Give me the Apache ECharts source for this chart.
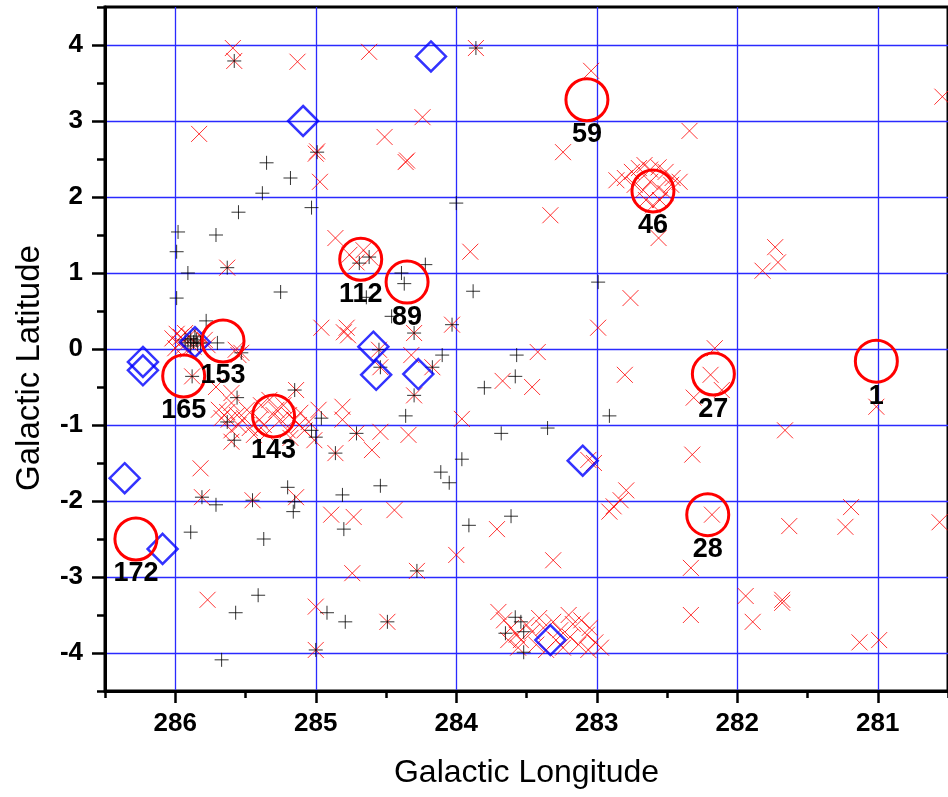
<!DOCTYPE html>
<html>
<head>
<meta charset="utf-8">
<script src="https://cdn.jsdelivr.net/npm/echarts@6/dist/echarts.min.js"></script>
<style>
  html, body { margin: 0; padding: 0; background: #fff; }
  #chart { width: 948px; height: 797px; }
</style>
</head>
<body>
<div id="chart"></div>
<script>
// tick values
const xTicks = [281, 282, 283, 284, 285, 286];
const yTicks = [-4, -3, -2, -1, 0, 1, 2, 3, 4];

// red x markers [lon, lat]
const redCross = [
  [285.59, 3.96], [285.58, 3.79], [285.13, 3.78], [285.83, 2.83], [284.99, 2.60], [285.00, 2.57],
  [284.97, 2.20], [284.62, 3.91], [283.86, 3.96], [283.04, 3.66], [284.24, 3.05], [284.51, 2.79],
  [284.36, 2.46], [284.35, 2.48], [283.24, 2.59], [282.86, 2.22], [283.33, 1.76], [284.86, 1.46],
  [283.90, 1.28], [282.34, 2.87],
  [282.80, 2.25], [282.75, 2.33], [282.70, 2.38], [282.66, 2.42], [282.62, 2.36], [282.56, 2.39],
  [282.51, 2.33], [282.46, 2.25], [282.41, 2.20], [282.73, 2.16], [282.67, 2.09], [282.62, 2.20],
  [282.56, 2.12], [282.51, 2.05], [282.65, 1.96], [282.60, 1.89], [282.55, 1.96], [282.47, 2.16],
  [282.56, 1.46], [281.73, 1.34], [281.71, 1.14], [281.82, 1.03], [280.54, 3.32],
  [284.76, 1.24], [284.71, 1.14], [284.61, 1.20], [284.66, 1.30],
  [285.63, 1.07], [284.96, 0.28], [284.80, 0.22], [284.78, 0.28], [284.77, 0.18], [284.30, 0.21],
  [284.03, 0.32], [282.99, 0.28], [284.55, -0.01], [284.54, -0.24], [284.32, -0.08], [284.17, -0.24],
  [283.42, -0.04], [283.67, -0.42], [283.46, -0.50], [284.30, -0.61], [283.96, -0.92], [282.80, -0.34],
  [282.76, 0.67], [282.16, 0.01], [282.19, -0.34], [282.11, -0.54], [282.31, -0.64], [281.01, -0.76],
  [281.66, -1.07], [282.32, -1.39],
  [286.02, 0.14], [285.99, 0.20], [285.96, 0.16], [285.93, 0.21], [285.90, 0.17], [285.97, 0.07],
  [285.94, 0.04], [285.87, 0.03], [285.83, 0.18], [285.79, 0.12], [285.77, 0.05], [286.00, 0.01],
  [285.91, -0.01], [285.57, -0.01], [285.53, -0.05], [285.55, -0.08], [285.88, -0.36], [285.71, -0.50],
  [285.60, -0.58], [285.60, -0.71], [285.14, -0.54],
  [285.69, -0.80], [285.63, -0.83], [285.67, -0.91], [285.62, -0.93], [285.56, -0.87], [285.51, -0.91],
  [285.55, -1.00], [285.47, -1.04], [285.44, -1.13], [285.40, -0.93], [285.37, -1.00], [285.49, -0.80],
  [285.60, -1.07], [285.28, -0.80], [285.23, -0.74], [285.19, -0.87], [285.15, -0.93], [285.12, -1.00],
  [285.20, -1.07], [285.25, -0.93], [285.08, -1.07], [285.05, -0.96], [285.33, -0.67], [285.30, -0.87],
  [285.35, -1.11], [285.18, -1.17], [285.39, -0.74], [285.60, -1.22], [285.01, -1.20], [284.86, -1.37],
  [284.98, -0.80], [285.11, -0.84], [284.81, -0.76], [284.81, -0.93], [284.71, -1.11], [284.60, -1.33],
  [284.54, -1.09], [284.34, -1.13],
  [285.82, -1.57], [285.81, -1.95], [285.45, -1.99], [285.14, -1.95], [285.77, -3.30], [285.00, -3.39],
  [285.00, -3.96], [284.89, -2.18], [284.73, -2.21], [284.44, -2.12], [284.74, -2.95], [284.28, -2.92],
  [284.49, -3.59], [283.71, -2.37], [284.00, -2.71], [283.31, -2.78],
  [282.79, -1.86], [282.83, -1.99], [282.88, -2.07], [282.91, -2.14], [282.18, -2.18], [281.63, -2.33],
  [281.23, -2.34], [281.19, -2.08], [280.56, -2.28], [282.33, -2.88], [282.33, -3.50], [281.94, -3.25],
  [281.89, -3.59], [281.68, -3.30], [281.68, -3.34], [281.13, -3.86], [280.99, -3.83], [283.06, -1.46],
  [283.02, -1.50],
  [283.70, -3.46], [283.66, -3.57], [283.61, -3.67], [283.57, -3.76], [283.54, -3.83], [283.50, -3.63],
  [283.46, -3.72], [283.43, -3.89], [283.41, -3.54], [283.38, -3.67], [283.36, -3.96], [283.31, -3.59],
  [283.29, -3.83], [283.26, -3.70], [283.24, -3.93], [283.20, -3.50], [283.19, -3.79], [283.17, -3.62],
  [283.13, -3.89], [283.11, -3.57], [283.07, -3.76], [283.05, -3.67], [283.01, -3.86], [282.97, -3.93],
  [283.06, -3.96], [283.56, -3.93], [283.63, -3.83]
];

// black + markers [lon, lat]
const blackPlus = [
  [285.58, 3.79], [283.86, 3.96], [284.99, 2.59], [285.35, 2.45], [285.18, 2.25], [285.38, 2.05],
  [285.03, 1.86], [285.55, 1.80], [285.98, 1.54], [285.71, 1.50], [285.99, 1.28], [284.00, 1.92],
  [285.91, 1.00], [285.63, 1.07], [285.99, 0.67], [285.25, 0.75], [285.78, 0.37],
  [285.93, 0.12], [285.91, 0.08], [285.89, 0.14], [285.87, 0.09], [285.85, 0.12], [285.84, 0.07],
  [285.89, 0.04], [285.82, 0.08], [285.86, 0.17], [285.70, 0.08], [285.53, -0.05], [285.88, -0.36],
  [285.56, -0.64], [285.63, -0.96], [285.58, -1.20], [285.15, -0.54], [284.96, -0.91], [285.03, -1.07],
  [285.00, -1.16], [284.86, -1.37],
  [284.69, 1.13], [284.62, 1.21], [284.22, 1.11], [284.39, 1.00], [284.37, 0.86], [284.64, 0.68],
  [284.46, 0.43], [283.88, 0.76], [282.99, 0.88], [284.30, 0.21], [284.03, 0.32], [284.55, -0.01],
  [284.54, -0.24], [284.10, -0.08], [284.17, -0.24], [283.57, -0.08], [283.58, -0.36], [283.80, -0.51],
  [284.30, -0.61], [284.36, -0.88], [282.91, -0.88], [284.71, -1.11], [283.68, -1.11], [283.35, -1.04],
  [283.96, -1.45], [284.11, -1.62], [284.05, -1.76], [284.54, -1.80], [284.81, -1.92],
  [285.81, -1.95], [285.71, -2.05], [285.45, -1.99], [285.20, -1.82], [285.15, -2.01], [285.16, -2.14],
  [285.89, -2.41], [285.37, -2.50], [285.57, -3.47], [285.41, -3.24], [285.67, -4.09], [285.00, -3.96],
  [284.80, -2.37], [283.91, -2.32], [283.61, -2.20], [284.28, -2.92], [284.92, -3.47], [284.79, -3.59],
  [284.49, -3.59], [283.58, -3.53], [283.54, -3.59], [283.65, -3.74], [283.52, -3.72], [283.52, -3.99]
];

// blue diamonds [lon, lat]
const diamonds = [
  [284.18, 3.85], [285.09, 3.00], [286.23, -0.17], [286.23, -0.28], [285.86, 0.09], [286.36, -1.70],
  [286.09, -2.63], [284.59, 0.03], [284.57, -0.34], [284.27, -0.33], [283.10, -1.47], [283.33, -3.83]
];

// labelled red circles
const circlePos = [
  [283.07, 3.28], [282.60, 2.08], [284.68, 1.18], [284.35, 0.88], [285.66, 0.105], [285.94, -0.355],
  [285.30, -0.88], [282.17, -0.33], [281.01, -0.16], [282.21, -2.18], [286.28, -2.50]
];
const circleNames = ['59', '46', '112', '89', '153', '165', '143', '27', '1', '28', '172'];

const font = 'Liberation Sans, Arial, Helvetica, sans-serif';
const gridBlue = '#2a2aff';

const chart = echarts.init(document.getElementById('chart'), null, { renderer: 'canvas' });

const option = {
  animation: false,
  backgroundColor: '#fff',
  grid: {
    left: 105, right: -3, top: 7, bottom: 106,
    show: true, borderColor: '#000', borderWidth: 3, backgroundColor: 'transparent'
  },
  xAxis: [
    {
      // minor ticks
      type: 'value', inverse: true, min: 280.5, max: 286.5, interval: 0.5, position: 'bottom',
      axisLine: { show: true, onZero: false, lineStyle: { color: '#000', width: 3 } },
      axisTick: { show: true, length: 7, lineStyle: { color: '#000', width: 2.5 } },
      axisLabel: { show: false },
      splitLine: { show: false }
    },
    {
      type: 'value', inverse: true, min: 280.5, max: 286.5, interval: 0.5, position: 'bottom',
      axisLine: { show: false, onZero: false },
      axisTick: { show: true, length: 12, customValues: xTicks, lineStyle: { color: '#000', width: 2.5 } },
      axisLabel: {
        show: true, customValues: xTicks, margin: 20,
        fontFamily: font, fontSize: 26, fontWeight: 'bold', color: '#000'
      },
      splitLine: { show: true, lineStyle: { color: gridBlue, width: 1.3 } },
      name: 'Galactic Longitude', nameLocation: 'middle', nameGap: 66,
      nameTextStyle: { fontFamily: font, fontSize: 32, color: '#000' }
    }
  ],
  yAxis: [
    {
      type: 'value', min: -4.5, max: 4.5, interval: 0.5, position: 'left',
      axisLine: { show: true, onZero: false, lineStyle: { color: '#000', width: 3 } },
      axisTick: { show: true, length: 8, lineStyle: { color: '#000', width: 2.5 } },
      axisLabel: { show: false },
      splitLine: { show: false }
    },
    {
      type: 'value', min: -4.5, max: 4.5, interval: 0.5, position: 'left',
      axisLine: { show: false, onZero: false },
      axisTick: { show: true, length: 13, customValues: yTicks, lineStyle: { color: '#000', width: 2.5 } },
      axisLabel: {
        show: true, customValues: yTicks, margin: 22,
        fontFamily: font, fontSize: 26, fontWeight: 'bold', color: '#000'
      },
      splitLine: { show: true, lineStyle: { color: gridBlue, width: 1.3 } }
    }
  ],
  graphic: [
    {
      type: 'text', x: 30, y: 368, rotation: Math.PI / 2,
      style: {
        text: 'Galactic Latitude', fontFamily: font, fontSize: 33, fill: '#000',
        align: 'center', verticalAlign: 'middle'
      }
    }
  ],
  series: [
    {
      type: 'scatter', xAxisIndex: 0, yAxisIndex: 0,
      data: redCross,
      symbol: 'path://M0,0L10,10M10,0L0,10',
      symbolSize: 16,
      itemStyle: { color: 'rgba(0,0,0,0)', borderColor: '#ff0000', borderWidth: 1 },
      silent: true
    },
    {
      type: 'scatter', xAxisIndex: 0, yAxisIndex: 0,
      data: blackPlus,
      symbol: 'path://M5,0L5,10M0,5L10,5',
      symbolSize: 14,
      itemStyle: { color: 'rgba(0,0,0,0)', borderColor: '#000', borderWidth: 1 },
      silent: true
    },
    {
      type: 'scatter', xAxisIndex: 0, yAxisIndex: 0,
      data: diamonds,
      symbol: 'diamond',
      symbolSize: 30,
      itemStyle: { color: 'rgba(0,0,0,0)', borderColor: '#0000ff', borderWidth: 2.5 },
      silent: true
    },
    {
      type: 'scatter', xAxisIndex: 0, yAxisIndex: 0,
      data: circlePos.map((p, i) => ({ value: p, name: circleNames[i] })),
      symbol: 'circle',
      symbolSize: 42,
      itemStyle: { color: 'rgba(0,0,0,0)', borderColor: '#ff0000', borderWidth: 3, opacity: 1 },
      label: {
        show: true, position: 'bottom', distance: -1, formatter: '{b}',
        fontFamily: font, fontSize: 27, fontWeight: 'bold', color: '#000'
      },
      silent: true
    }
  ]
};

chart.setOption(option);
</script>
</body>
</html>
